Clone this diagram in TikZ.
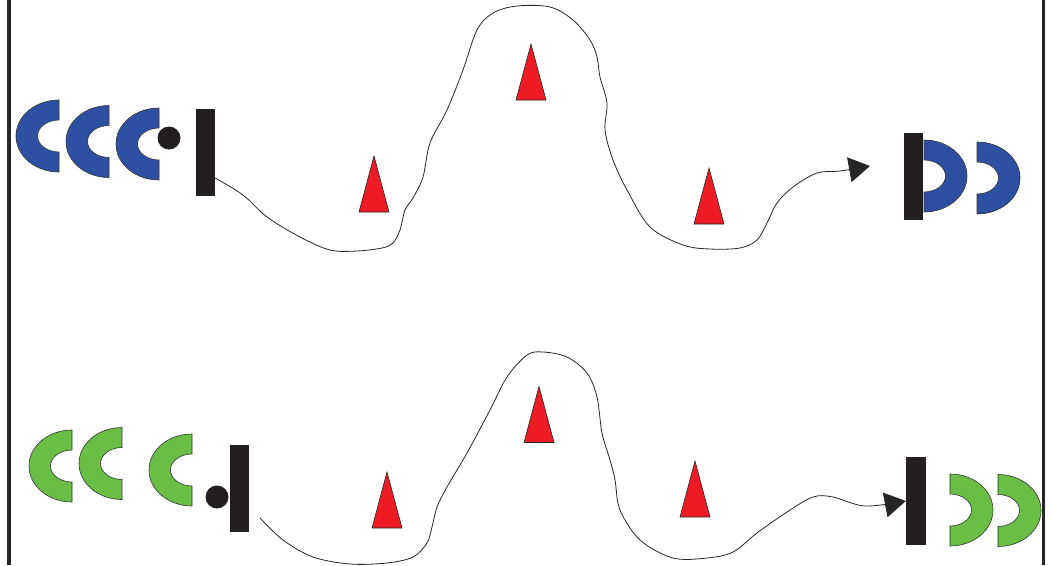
\documentclass[tikz,border=0pt]{standalone}
\usepackage{tikz}
\usetikzlibrary{arrows.meta}

\definecolor{cupblue}{RGB}{46,80,162}
\definecolor{cupgreen}{RGB}{107,190,69}
\definecolor{conered}{RGB}{237,28,36}
\definecolor{barblack}{RGB}{35,31,32}

\tikzset{
  cup/.pic={
    \draw[fill=#1,draw=black!80,line width=0.6pt]
      (0,36) arc[start angle=90,end angle=270,x radius=43,y radius=36]
      -- (0,-16) arc[start angle=270,end angle=90,x radius=21.5,y radius=16] -- cycle;
  },
  cone/.pic={
    \draw[fill=conered,draw=black!85,line width=0.6pt]
      (-15,28) -- (0,-28) -- (15,28) -- cycle;
  },
  post/.style={rectangle,fill=barblack,inner sep=0pt,minimum width=19pt,minimum height=87pt},
  ball/.style={circle,fill=barblack,inner sep=0pt,minimum size=23pt},
  track/.style={line width=0.8pt,black!85},
  tip/.style={-{Triangle[length=21pt,width=25pt]}}
}

\begin{document}
\begin{tikzpicture}[x=1pt,y=-1pt]
       \useasboundingbox (0,0) rectangle (1051,565);
       \draw[line width=3.5pt,black!85] (9,0) -- (9,565);
       \draw[line width=3.5pt,black!85] (1043.5,0) -- (1043.5,565);

       \pic (cupA1) at (59,136) {cup=cupblue};
       \pic (cupA2) at (109,141.5) {cup=cupblue};
       \pic (cupA3) at (159,144) {cup=cupblue};
       \node[ball] (ballA) at (169,138) {};
       \node[post] (postA) at (205.5,152.5) {};
       \node[post] (postB) at (913,176.5) {};
       \pic[rotate=180] (cupB1) at (924,176) {cup=cupblue};
       \pic[rotate=180] (cupB2) at (977,178) {cup=cupblue};

       \pic (coneA) at (374,184) {cone};
       \pic (coneB) at (531,72) {cone};
       \pic (coneC) at (709,196) {cone};

       \pic (cupC1) at (72,466) {cup=cupgreen};
       \pic (cupC2) at (122,463.5) {cup=cupgreen};
       \pic (cupC3) at (192,470) {cup=cupgreen};
       \node[ball] (ballC) at (217,497) {};
       \node[post] (postC) at (239.5,488.5) {};
       \node[post,minimum width=20pt,minimum height=88pt] (postD) at (916,501) {};
       \pic[rotate=180] (cupD1) at (950,510) {cup=cupgreen};
       \pic[rotate=180] (cupD2) at (998,510.5) {cup=cupgreen};

       \pic (coneD) at (387,500) {cone};
       \pic (coneE) at (539,414.5) {cone};
       \pic (coneF) at (695,489) {cone};

       \coordinate (startA) at ([yshift=-25.5pt]postA.east);
       \coordinate (endA) at (870,166);
       \coordinate (startB) at (260,518);

       \draw[track,tip] plot[smooth,tension=0.55] coordinates {
         (startA) (243,195) (267,217) (300,237) (330,250) (357,251) (382,248)
         (393,243) (400,230) (405,210) (413,198) (423,177) (430,143) (447,110)
         (463,70) (477,30) (493,13) (517,6) (550,7) (573,20) (590,40) (597,57)
         (600,77) (607,103) (605,130) (613,160) (627,190) (650,227) (683,245)
         (710,249) (740,248) (757,240) (767,223) (777,203) (793,187) (817,173)
         (840,171) (endA)};

       \draw[track,tip] plot[smooth,tension=0.55] coordinates {
         (startB) (283,540) (313,557) (350,564) (387,563) (413,557) (427,543)
         (432,527) (437,507) (447,487) (467,453) (490,410) (507,377) (527,355)
         (543,352) (567,357) (587,373) (597,397) (602,433) (610,460) (615,480)
         (620,510) (640,540) (673,558) (707,558) (733,552) (757,533) (787,512)
         (813,497) (833,497) (865,506) (postD.west)};
\end{tikzpicture}
\end{document}
